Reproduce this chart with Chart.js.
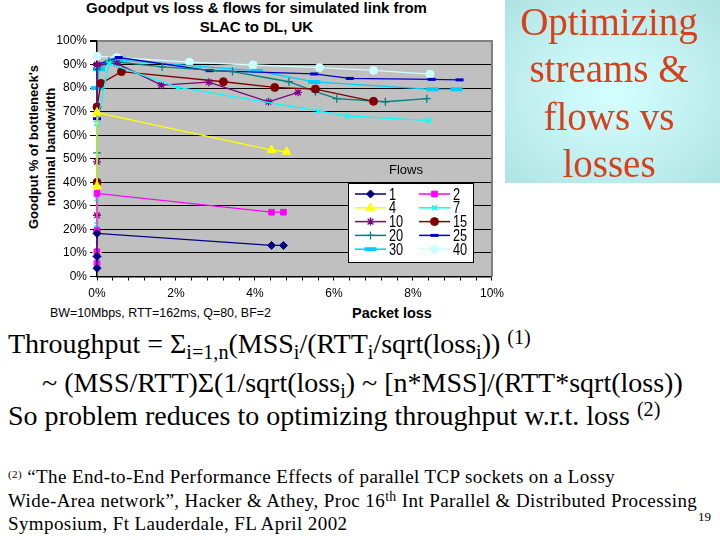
<!DOCTYPE html>
<html>
<head>
<meta charset="utf-8">
<script src="https://cdn.jsdelivr.net/npm/chart.js@4.4.1/dist/chart.umd.min.js"></script>
<style>
  body { margin: 0; width: 720px; height: 540px; background: #fff; position: relative; overflow: hidden; }
  .abs { position: absolute; white-space: nowrap; }
  .sans { font-family: "Liberation Sans", Arial, sans-serif; color: #000; }
  .serif { font-family: "Liberation Serif", "Times New Roman", serif; color: #000; }
  .big { font-size: 28px; line-height: 28px; }
  .foot { font-size: 19px; line-height: 19px; letter-spacing: 0.4px; }
  sub, sup { line-height: 0; font-size: 0.72em; }
  sub { vertical-align: -0.32em; }
  sup { vertical-align: 0.45em; }
  #panel { left: 505px; top: 0; width: 215px; height: 183px;
    background: radial-gradient(ellipse at 50% 50%, #d4ffff 0%, #c2f0f0 55%, #b0e2e2 100%); }
  #panel div { position: absolute; left: 0; top: -2px; width: 208px; text-align: center;
    font-family: "Liberation Serif", "Times New Roman", serif; font-size: 39px; line-height: 47.3px; color: #d8401c; }
</style>
</head>
<body>
<div class="abs sans" style="left:0;top:-2px;width:513px;text-align:center;font-weight:bold;font-size:15px;line-height:19.4px">Goodput vs loss &amp; flows for simulated link from<br>SLAC to DL, UK</div>
<div class="abs sans" style="left:33px;top:147px;font-weight:bold;font-size:13px;line-height:13px;transform:translate(-50%,-50%) rotate(-90deg)">Goodput % of bottleneck's</div>
<div class="abs sans" style="left:50px;top:147px;font-weight:bold;font-size:13px;line-height:13px;transform:translate(-50%,-50%) rotate(-90deg)">nominal bandwidth</div>
<div class="abs" style="left:0;top:0;width:510px;height:300px"><canvas id="c" width="510" height="300"></canvas></div>
<div class="abs sans" style="left:50px;top:306px;font-size:12.4px;line-height:14px">BW=10Mbps, RTT=162ms, Q=80, BF=2</div>
<div class="abs sans" style="left:392px;top:305px;font-size:14.5px;line-height:16px;font-weight:bold;transform:translateX(-50%)">Packet loss</div>

<div id="panel" class="abs"><div>Optimizing<br>streams &amp;<br>flows vs<br>losses</div></div>

<div class="abs serif big" style="left:8px;top:330px">Throughput = Σ<sub>i=1,n</sub>(MSS<sub>i</sub>/(RTT<sub>i</sub>/sqrt(loss<sub>i</sub>)) <sup>(1)</sup></div>
<div class="abs serif big" style="left:42px;top:369px">~ (MSS/RTT)Σ(1/sqrt(loss<sub>i</sub>) ~ [n*MSS]/(RTT*sqrt(loss))</div>
<div class="abs serif big" style="left:8px;top:402px">So problem reduces to optimizing throughput w.r.t. loss <sup>(2)</sup></div>

<div class="abs serif foot" style="left:8px;top:467px"><sup style="font-size:11px">(2)</sup> “The End-to-End Performance Effects of parallel TCP sockets on a Lossy</div>
<div class="abs serif foot" style="left:8px;top:491px">Wide-Area network”, Hacker &amp; Athey, Proc 16<sup>th</sup> Int Parallel &amp; Distributed Processing</div>
<div class="abs serif foot" style="left:8px;top:514px">Symposium, Ft Lauderdale, FL April 2002</div>
<div class="abs serif" style="left:698px;top:510px;font-size:13px;line-height:13px">19</div>

<script>
// flows per test, packet loss (%) and goodput (% of bottleneck) per series
const flows = ['1', '2', '4', '7', '10', '15', '20', '25', '30', '40'];

const loss1 = [0, 0, 0, 4.42, 4.72];
const good1 = [3.5, 8.5, 18.3, 13.2, 13.2];
const loss2 = [0, 0, 0, 0, 4.42, 4.72];
const good2 = [5.5, 10.5, 19.5, 35.3, 27.3, 27.3];
const loss4 = [0, 0, 0, 0, 4.42, 4.8];
const good4 = [11, 19, 38.4, 69.6, 53.7, 53];
const loss7 = [0, 0, 0, 0.3, 2.05, 5.6, 6.33, 8.4];
const good7 = [22, 33, 65, 90.5, 80.3, 70.3, 68.2, 66.2];
const loss10 = [0, 0, 0, 0, 0, 0.5, 1.63, 2.83, 4.34, 5.09];
const good10 = [10.5, 19.5, 26, 48.7, 90, 90.5, 81.3, 82.5, 74.2, 78.2];
const loss15 = [0, 0, 0.1, 0.62, 3.2, 4.5, 5.53, 7.0];
const good15 = [40, 72, 82, 87, 82.7, 80.3, 79.6, 74.4];
const loss20 = [0, 0, 0.3, 1.65, 3.43, 4.86, 5.53, 6.07, 7.3, 8.35];
const good20 = [52.5, 88, 91.5, 89, 87, 82.7, 78.5, 75.5, 74.2, 75.5];
const loss25 = [0, 0, 0.55, 2.85, 5.5, 6.4, 8.47, 9.18];
const good25 = [67, 90, 93, 87.4, 86, 84.1, 83.7, 83.5];
const loss30 = [0, 0.05, 0.5, 4.05, 5.5, 8.5, 9.1];
const good30 = [80, 88, 92, 87.3, 82.6, 79.5, 79.5];
const loss40 = [0, 0.5, 2.34, 3.95, 5.63, 7.0, 8.43];
const good40 = [93.5, 93, 91, 89.8, 88.7, 87.5, 85.9];

const xTicks = [0, 2, 4, 6, 8, 10];

const lossSets = [loss1, loss2, loss4, loss7, loss10, loss15, loss20, loss25, loss30, loss40];
const goodSets = [good1, good2, good4, good7, good10, good15, good20, good25, good30, good40];

// excel-ish default palette and markers
const looks = [
  { color: '#000080', style: 'rectRot', r: 4, bw: 1 },
  { color: '#ff00ff', style: 'rect', r: 4, bw: 1 },
  { color: '#ffff00', style: 'triangle', r: 5, bw: 1 },
  { color: '#00ffff', style: 'crossRot', r: 3.5, bw: 1.5 },
  { color: '#800080', style: 'star', r: 4, bw: 1.3 },
  { color: '#800000', style: 'circle', r: 4, bw: 1 },
  { color: '#008080', style: 'cross', r: 4, bw: 1.3 },
  { color: '#0000cc', style: 'line', r: 4, bw: 3 },
  { color: '#00ccff', style: 'line', r: 6, bw: 4 },
  { color: '#ccffff', style: 'circle', r: 4, bw: 1 }
];

const datasets = flows.map((f, i) => ({
  label: f,
  data: lossSets[i].map((x, k) => ({ x: x, y: goodSets[i][k] })),
  showLine: true,
  borderColor: looks[i].color,
  backgroundColor: looks[i].color,
  borderWidth: 1.3,
  pointStyle: looks[i].style,
  pointRadius: looks[i].r,
  pointBackgroundColor: looks[i].color,
  pointBorderColor: looks[i].color,
  pointBorderWidth: looks[i].bw,
  clip: false
}));

const plotBg = {
  id: 'plotBg',
  beforeDraw(chart) {
    const a = chart.chartArea, ctx = chart.ctx;
    ctx.save();
    ctx.fillStyle = '#c0c0c0';
    ctx.fillRect(a.left, a.top, a.right - a.left, a.bottom - a.top);
    ctx.restore();
  },
  beforeDatasetsDraw(chart) {
    const a = chart.chartArea, ctx = chart.ctx;
    ctx.save();
    ctx.strokeStyle = '#808080';
    ctx.lineWidth = 2;
    ctx.beginPath();
    ctx.moveTo(a.left, a.top);
    ctx.lineTo(a.right, a.top);
    ctx.lineTo(a.right, a.bottom);
    ctx.stroke();
    ctx.restore();
  }
};

const flowsLegend = {
  id: 'flowsLegend',
  afterDraw(chart) {
    const ctx = chart.ctx;
    ctx.save();
    ctx.fillStyle = '#000';
    ctx.font = '13px "Liberation Sans", Arial, sans-serif';
    ctx.textAlign = 'center';
    ctx.textBaseline = 'middle';
    ctx.fillText('Flows', 406, 170);
    ctx.fillStyle = '#fff';
    ctx.fillRect(348.5, 183.5, 125, 79);
    ctx.strokeStyle = '#000';
    ctx.lineWidth = 1;
    ctx.strokeRect(348.5, 183.5, 125, 79);
    chart.data.datasets.forEach((ds, i) => {
      const x0 = i % 2 ? 419 : 355;
      const y = 194 + Math.floor(i / 2) * 13.8;
      ctx.strokeStyle = ds.borderColor;
      ctx.lineWidth = 1.5;
      ctx.beginPath();
      ctx.moveTo(x0, y);
      ctx.lineTo(x0 + 31, y);
      ctx.stroke();
      ctx.fillStyle = ds.pointBackgroundColor;
      ctx.strokeStyle = ds.pointBorderColor;
      ctx.lineWidth = ds.pointBorderWidth;
      Chart.helpers.drawPoint(ctx, { pointStyle: ds.pointStyle, radius: ds.pointRadius, borderWidth: ds.pointBorderWidth, rotation: 0 }, x0 + 15.5, y);
      ctx.save();
      ctx.translate(x0 + 34, y + 1);
      ctx.scale(0.75, 1);
      ctx.fillStyle = '#000';
      ctx.textAlign = 'left';
      ctx.font = '17px "Liberation Sans", Arial, sans-serif';
      ctx.fillText(ds.label, 0, 0);
      ctx.restore();
    });
    ctx.restore();
  }
};

new Chart(document.getElementById('c').getContext('2d'), {
  type: 'scatter',
  data: { datasets: datasets },
  plugins: [plotBg, flowsLegend],
  options: {
    responsive: false,
    animation: false,
    layout: { padding: { top: 41, right: 14, left: 0, bottom: 0 } },
    plugins: { legend: { display: false }, tooltip: { enabled: false }, title: { display: false } },
    scales: {
      x: {
        type: 'linear', min: 0, max: 10,
        afterFit: s => { s.height = 23.5; },
        afterBuildTicks: s => { s.ticks = Array.from({ length: 26 }, (_, k) => ({ value: k * 0.4 })); },
        grid: { drawOnChartArea: false, drawTicks: true, tickLength: 4, color: '#000' },
        border: { color: '#000', width: 1.5 },
        ticks: {
          autoSkip: false, maxRotation: 0, padding: 6, color: '#000',
          font: { family: '"Liberation Sans", Arial, sans-serif', size: 12 },
          callback: v => xTicks.some(t => Math.abs(t - v) < 1e-6) ? Math.round(v) + '%' : ''
        }
      },
      y: {
        min: 0, max: 100,
        afterFit: s => { s.width = 97; },
        grid: {
          color: c => c.tick.value === 100 ? '#808080' : '#000',
          lineWidth: c => c.tick.value === 100 ? 2 : 1,
          tickLength: 7, tickColor: '#000'
        },
        border: { color: '#000', width: 1.5 },
        ticks: {
          stepSize: 10, padding: 3, color: '#000',
          font: { family: '"Liberation Sans", Arial, sans-serif', size: 12 },
          callback: v => v + '%'
        }
      }
    }
  }
});
</script>
</body>
</html>
